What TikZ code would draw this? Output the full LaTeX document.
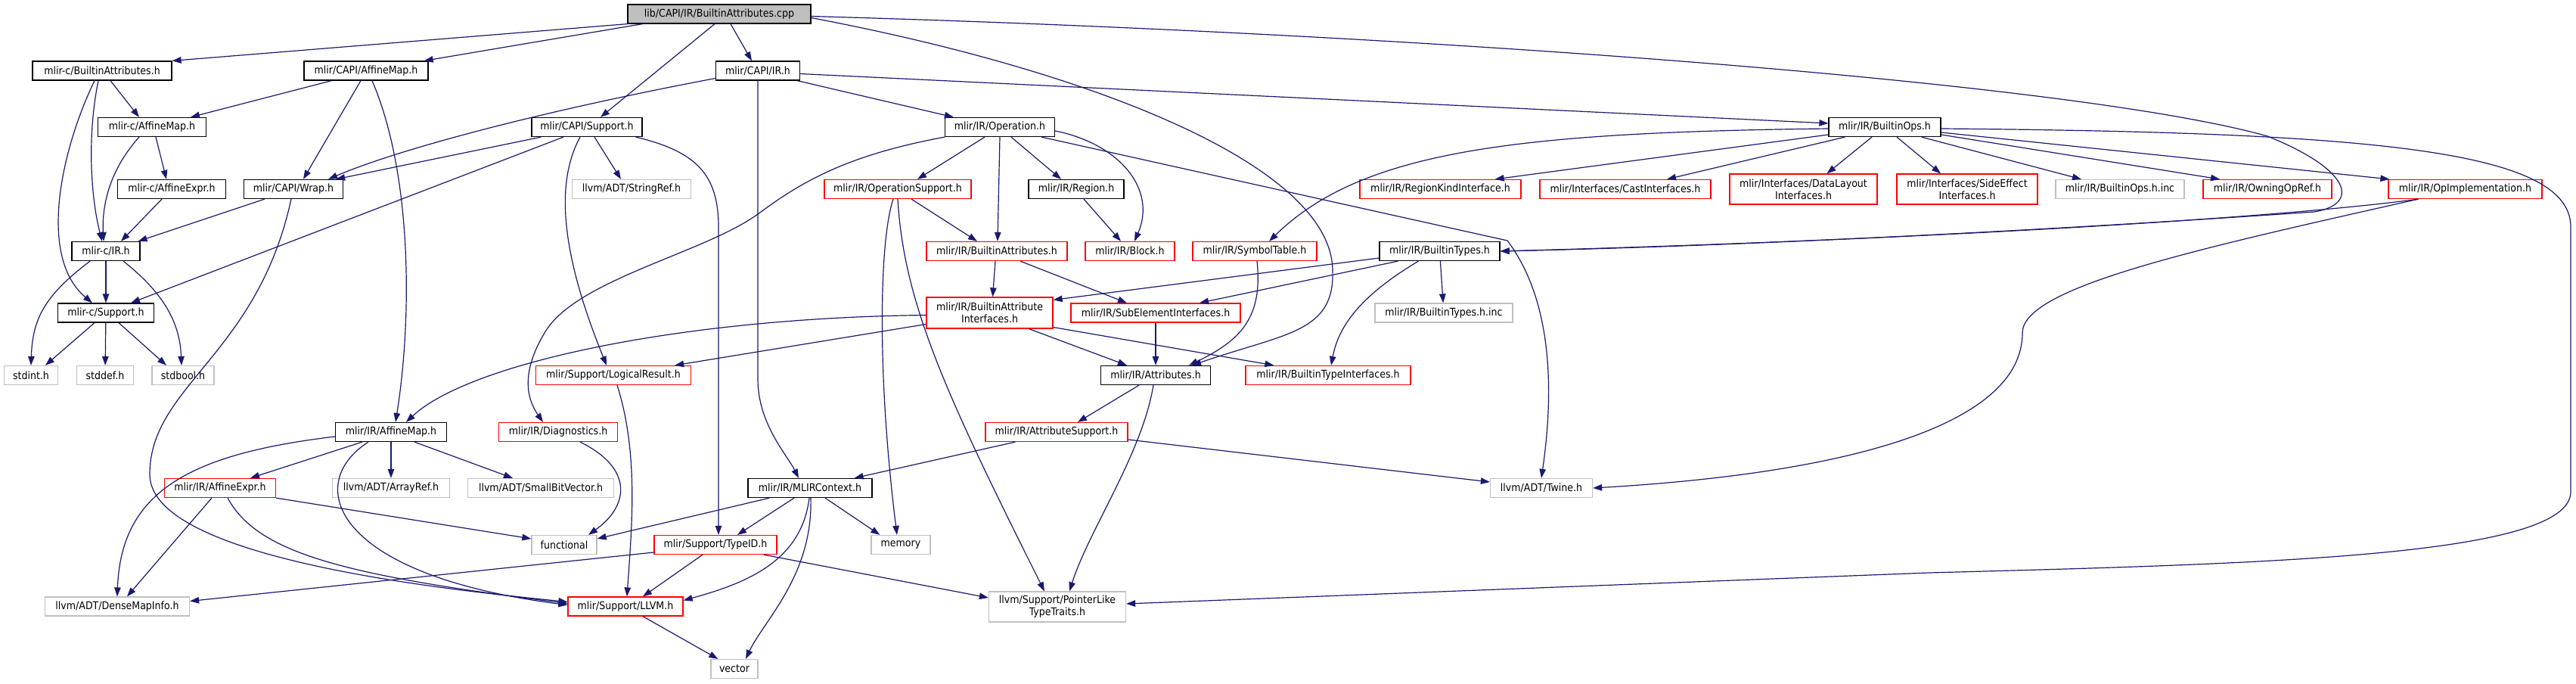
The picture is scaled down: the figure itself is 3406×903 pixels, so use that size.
\documentclass[tikz,border=0pt]{standalone}
\usepackage{fontspec}
\IfFontExistsTF{DejaVu Sans Condensed}{\setmainfont{DejaVu Sans Condensed}\newcommand\nf{\fontsize{14}{16}\selectfont}}{\setmainfont{DejaVu Sans}\newcommand\nf{\fontsize{12.8}{15}\selectfont}}
\usetikzlibrary{arrows.meta,calc}
\definecolor{edgec}{HTML}{191970}
\definecolor{grayb}{HTML}{BFBFBF}
\definecolor{redb}{HTML}{FF0000}
\tikzset{
  box/.style={rectangle, draw, fill=white, minimum height=25pt, inner sep=0pt, line width=1.25pt, font=\nf, text=black, align=center},
  bk/.style={box, draw=black},
  rd/.style={box, draw=redb},
  gr/.style={box, draw=grayb},
  e/.style={draw=edgec, line width=1.2pt, -{Triangle[length=12pt,width=8.5pt]}}
}
\begin{document}
\begin{tikzpicture}[x=1pt,y=-1pt]
\fill[white] (0,0) rectangle (3406,903);
\useasboundingbox (0,0) rectangle (3406,903);
% nodes
\node[bk, fill=grayb, minimum width=242pt] (root) at (951,18.5) {lib/CAPI/IR/BuiltinAttributes.cpp};
\node[bk, minimum width=184pt] (cba) at (135,93.5) {mlir-c/BuiltinAttributes.h};
\node[bk, minimum width=164pt] (capiam) at (484,93.5) {mlir/CAPI/AffineMap.h};
\node[bk, minimum width=111pt] (capiir) at (1002,93.5) {mlir/CAPI/IR.h};
\node[bk, minimum width=143pt] (caff) at (201,168) {mlir-c/AffineMap.h};
\node[bk, minimum width=146pt] (capisup) at (776,168) {mlir/CAPI/Support.h};
\node[bk, minimum width=145pt] (op) at (1322,168) {mlir/IR/Operation.h};
\node[bk, minimum width=148pt] (bops) at (2492,168) {mlir/IR/BuiltinOps.h};
\node[bk, minimum width=143pt] (caffe) at (227,250) {mlir-c/AffineExpr.h};
\node[bk, minimum width=131pt] (wrap) at (388,250) {mlir/CAPI/Wrap.h};
\node[gr, minimum width=157pt] (sref) at (835,250) {llvm/ADT/StringRef.h};
\node[rd, minimum width=194pt] (opsup) at (1187,250) {mlir/IR/OperationSupport.h};
\node[bk, minimum width=126pt] (region) at (1423,250) {mlir/IR/Region.h};
\node[rd, minimum width=213pt] (rki) at (1904.5,250) {mlir/IR/RegionKindInterface.h};
\node[rd, minimum width=226pt] (cast) at (2149,250) {mlir/Interfaces/CastInterfaces.h};
\node[rd, minimum width=195pt, minimum height=40pt] (dl) at (2384.5,250) {mlir/Interfaces/DataLayout\\Interfaces.h};
\node[rd, minimum width=186pt, minimum height=40pt] (se) at (2601,250) {mlir/Interfaces/SideEffect\\Interfaces.h};
\node[gr, minimum width=170pt] (bopsinc) at (2803,250) {mlir/IR/BuiltinOps.h.inc};
\node[rd, minimum width=170pt] (owning) at (2998,250) {mlir/IR/OwningOpRef.h};
\node[rd, minimum width=203pt] (opimpl) at (3259.5,250) {mlir/IR/OpImplementation.h};
\node[bk, minimum width=90pt] (cir) at (140,332) {mlir-c/IR.h};
\node[rd, minimum width=186pt] (battr) at (1318,332) {mlir/IR/BuiltinAttributes.h};
\node[rd, minimum width=118pt] (block) at (1494,332) {mlir/IR/Block.h};
\node[rd, minimum width=164pt] (symtab) at (1659,332) {mlir/IR/SymbolTable.h};
\node[bk, minimum width=159pt] (btypes) at (1903.5,332) {mlir/IR/BuiltinTypes.h};
\node[bk, minimum width=127pt] (csup) at (140,413.5) {mlir-c/Support.h};
\node[rd, minimum width=167pt, minimum height=41pt] (bai) at (1308.5,413.5) {mlir/IR/BuiltinAttribute\\Interfaces.h};
\node[rd, minimum width=224pt] (subel) at (1528,413.5) {mlir/IR/SubElementInterfaces.h};
\node[gr, minimum width=182pt] (btinc) at (1909,413.5) {mlir/IR/BuiltinTypes.h.inc};
\node[gr, minimum width=71pt] (stdint) at (41,496) {stdint.h};
\node[gr, minimum width=75pt] (stddef) at (139,496) {stddef.h};
\node[gr, minimum width=82pt] (stdbool) at (242,496) {stdbool.h};
\node[rd, minimum width=205pt] (logres) at (811,496) {mlir/Support/LogicalResult.h};
\node[bk, minimum width=145pt] (attrs) at (1528,496) {mlir/IR/Attributes.h};
\node[rd, minimum width=218pt] (bti) at (1756,496) {mlir/IR/BuiltinTypeInterfaces.h};
\node[bk, minimum width=147pt] (iram) at (517,571) {mlir/IR/AffineMap.h};
\node[rd, minimum width=157pt] (diag) at (738,571) {mlir/IR/Diagnostics.h};
\node[rd, minimum width=188pt] (attrsup) at (1397,571) {mlir/IR/AttributeSupport.h};
\node[rd, minimum width=147pt] (iraffe) at (291,645) {mlir/IR/AffineExpr.h};
\node[gr, minimum width=155pt] (aref) at (517,645) {llvm/ADT/ArrayRef.h};
\node[gr, minimum width=193pt] (sbv) at (715,645) {llvm/ADT/SmallBitVector.h};
\node[bk, minimum width=164pt] (mlirctx) at (1071,645) {mlir/IR/MLIRContext.h};
\node[gr, minimum width=135pt] (twine) at (2038,645) {llvm/ADT/Twine.h};
\node[gr, minimum width=86pt] (functional) at (746,720) {functional};
\node[rd, minimum width=162pt] (typeid) at (946,720) {mlir/Support/TypeID.h};
\node[gr, minimum width=78pt] (memory) at (1191,720) {memory};
\node[gr, minimum width=191pt] (dmi) at (155,801.5) {llvm/ADT/DenseMapInfo.h};
\node[rd, minimum width=152pt] (llvmh) at (827,801.5) {mlir/Support/LLVM.h};
\node[gr, minimum width=181pt, minimum height=40pt] (plt) at (1398,802) {llvm/Support/PointerLike\\TypeTraits.h};
\node[gr, minimum width=62pt] (vector) at (971,884) {vector};
% root edges
\draw[e] (root.south west) -- (cba.north east);
\draw[e] ($(root.south west)+(20,0)$) -- ($(capiam.north east)+(-6,0)$);
\draw[e] ($(root.south)+(-6,0)$) -- ($(capisup.north)+(18,0)$);
\draw[e] ($(root.south)+(15,0)$) -- ($(capiir.north)+(-8,0)$);
\draw[e] ($(root.east)+(0,5)$) .. controls (1450,95) and (1760,220) .. (1762,357) .. controls (1765,440) and (1700,440) .. ($(attrs.north)+(48,0)$);
\draw[e] ($(root.east)+(0,3)$) .. controls (1900,45) and (2750,110) .. (2998,180) .. controls (3110,225) and (3120,270) .. (3060,280) .. controls (2700,305) and (2300,325) .. (btypes.east);
% capiir
\draw[e] ($(capiir.west)+(0,10)$) .. controls (700,150) and (520,200) .. ($(wrap.north east)+(-20,0)$);
\draw[e] (capiir.south) -- ($(capiir.south)+(0,394)$) .. controls (1002,560) and (1040,600) .. ($(mlirctx.north)+(-15,0)$);
\draw[e] ($(capiir.south east)+(-4,0)$) -- ($(op.north west)+(12,0)$);
\draw[e] ($(capiir.east)+(0,4)$) -- ($(bops.west)+(0,-5)$);
% capiam
\draw[e] ($(capiam.south west)+(37,0)$) -- ($(caff.north)+(51,0)$);
\draw[e] ($(capiam.south)+(-7,0)$) -- ($(wrap.north)+(13,0)$);
\draw[e] ($(capiam.south)+(8,0)$) .. controls (545,230) and (545,420) .. ($(iram.north)+(6,0)$);
% cba
\draw[e] ($(cba.south)+(11,0)$) -- ($(caff.north)+(-17,0)$);
\draw[e] ($(cba.south)+(-5,0)$) .. controls (115,180) and (120,260) .. ($(cir.north)+(-5,0)$);
\draw[e] ($(cba.south)+(-10,0)$) .. controls (80,200) and (50,340) .. ($(csup.north)+(-18,0)$);
% caff
\draw[e] ($(caff.south)+(5,0)$) -- ($(caffe.north)+(-7,0)$);
\draw[e] ($(caff.south)+(-17,0)$) .. controls (140,230) and (135,280) .. ($(cir.north)+(-3,0)$);
\draw[e] ($(caffe.south)+(-13,0)$) -- ($(cir.north)+(20,0)$);
% wrap
\draw[e] ($(wrap.south west)+(28,0)$) -- ($(cir.north east)+(-3,0)$);
\draw[e] ($(wrap.south)+(-3,0)$) .. controls (340,470) and (198,510) .. (198,627) .. controls (198,740) and (600,780) .. ($(llvmh.west)+(0,-6)$);
% capisup
\draw[e] ($(capisup.south west)+(13,0)$) -- ($(wrap.north east)+(-10,0)$);
\draw[e] ($(capisup.south)+(-31,0)$) -- ($(csup.north)+(33,0)$);
\draw[e] ($(capisup.south)+(10,0)$) -- ($(sref.north)+(-14,0)$);
\draw[e] ($(capisup.south)+(-9,0)$) .. controls (735,240) and (740,330) .. ($(logres.north)+(-9,0)$);
\draw[e] ($(capisup.south east)+(-9,0)$) .. controls (920,200) and (950,230) .. (950,300) -- ($(typeid.north)+(4,0)$);
% op
\draw[e] ($(op.south)+(-20,0)$) -- ($(opsup.north)+(26,0)$);
\draw[e] (op.south) -- ($(battr.north)+(1,0)$);
\draw[e] ($(op.south)+(15,0)$) -- ($(region.north)+(-20,0)$);
\draw[e] ($(op.east)+(0,5)$) .. controls (1480,190) and (1530,250) .. ($(block.north)+(6,0)$);
\draw[e] (op.south west) .. controls (1120,205) and (1060,240) .. (1002,283) .. controls (930,335) and (760,370) .. (720,440) .. controls (690,490) and (695,525) .. ($(diag.north)+(-20,0)$);
\draw[e] ($(op.south east)+(-18,0)$) -- (1993,318) .. controls (2040,380) and (2060,480) .. (twine.north);
% opsup
\draw[e] ($(opsup.south)+(18,0)$) -- ($(battr.north)+(-26,0)$);
\draw[e] ($(opsup.south)+(-6,0)$) .. controls (1162,320) and (1160,500) .. ($(memory.north)+(-5,0)$);
\draw[e] (opsup.south) .. controls (1195,400) and (1250,520) .. ($(plt.north)+(-17,0)$);
\draw[e] ($(region.south)+(10,0)$) -- ($(block.north)+(-12,0)$);
% battr
\draw[e] ($(battr.south)+(-2,0)$) -- ($(bai.north)+(4,0)$);
\draw[e] ($(battr.south)+(31,0)$) -- ($(subel.north)+(-38,0)$);
% bai
\draw[e] ($(bai.west)+(0,3)$) .. controls (900,420) and (620,480) .. ($(iram.north)+(20,0)$);
\draw[e] ($(bai.west)+(0,15)$) -- ($(logres.north east)+(-22,0)$);
\draw[e] ($(bai.south)+(52,0)$) -- ($(attrs.north)+(-38,0)$);
\draw[e] ($(bai.east)+(0,19)$) -- ($(bti.north west)+(38,0)$);
\draw[e] (subel) -- (attrs);
\draw[e] ($(symtab.south)+(3,0)$) .. controls (1670,420) and (1640,450) .. ($(attrs.north)+(44,0)$);
% btypes
\draw[e] ($(btypes.west)+(0,9)$) -- ($(bai.north east)+(0,4)$);
\draw[e] ($(btypes.south west)+(25,0)$) -- ($(subel.north)+(58,0)$);
\draw[e] ($(btypes.south)+(-28,0)$) .. controls (1800,390) and (1770,430) .. ($(bti.north)+(4,0)$);
\draw[e] (btypes) -- (btinc);
% bops
\draw[e] ($(bops.west)+(0,10)$) -- ($(rki.north east)+(-35,0)$);
\draw[e] ($(bops.south west)+(22,0)$) -- ($(cast.north)+(55,0)$);
\draw[e] ($(bops.south)+(-17,0)$) -- ($(dl.north)+(31,0)$);
\draw[e] ($(bops.south)+(16,0)$) -- ($(se.north)+(-35,0)$);
\draw[e] ($(bops.south east)+(-26,0)$) -- ($(bopsinc.north)+(-51,0)$);
\draw[e] ($(bops.east)+(0,10)$) -- ($(owning.north)+(-63,0)$);
\draw[e] ($(bops.east)+(0,7)$) -- ($(opimpl.north west)+(2,0)$);
\draw[e] ($(bops.east)+(0,2)$) .. controls (3150,175) and (3399,200) .. (3399,300) -- (3399,650) .. controls (3399,735) and (3000,745) .. (2550,757) -- ($(plt.east)+(0,-4)$);
\draw[e] ($(bops.west)+(0,2)$) .. controls (2000,175) and (1800,200) .. ($(symtab.north)+(19,0)$);
% opimpl
\draw[e] ($(opimpl.south)+(-62,0)$) .. controls (3000,290) and (2500,318) .. (btypes.east);
\draw[e] ($(opimpl.south)+(-62,0)$) .. controls (2900,330) and (2674,380) .. (2674,440) .. controls (2674,560) and (2450,625) .. (twine.east);
% attrs
\draw[e] ($(attrs.south)+(-22,0)$) -- ($(attrsup.north)+(28,0)$);
\draw[e] ($(attrs.south)+(-3,0)$) .. controls (1510,600) and (1440,700) .. ($(plt.north)+(16,0)$);
% attrsup
\draw[e] ($(attrsup.south west)+(40,0)$) -- ($(mlirctx.north east)+(-24,0)$);
\draw[e] ($(attrsup.east)+(0,10)$) -- ($(twine.west)+(0,-8)$);
% mlirctx
\draw[e] ($(mlirctx.south west)+(29,0)$) -- ($(functional.east)+(0,-8)$);
\draw[e] ($(mlirctx.south)+(-21,0)$) -- ($(typeid.north)+(29,0)$);
\draw[e] ($(mlirctx.south)+(20,0)$) -- ($(memory.north west)+(12,0)$);
\draw[e] ($(mlirctx.south)+(-1,0)$) .. controls (1060,740) and (990,770) .. ($(llvmh.east)+(0,-8)$);
\draw[e] ($(mlirctx.south)+(1,0)$) .. controls (1075,760) and (1010,820) .. ($(vector.north)+(15,0)$);
% typeid
\draw[e] ($(typeid.south)+(-17,0)$) -- ($(llvmh.north)+(23,0)$);
\draw[e] ($(typeid.south)+(64,0)$) -- ($(plt.west)+(0,-12)$);
\draw[e] ($(typeid.west)+(0,10)$) -- ($(dmi.east)+(0,-7)$);
\draw[e] ($(llvmh.south)+(23,0)$) -- ($(vector.north west)+(10,0)$);
\draw[e] ($(logres.south)+(5,0)$) .. controls (845,600) and (835,700) .. ($(llvmh.north)+(2,0)$);
\draw[e] ($(diag.south)+(29,0)$) .. controls (840,620) and (830,670) .. ($(functional.north)+(32,0)$);
% iram
\draw[e] ($(iram.south)+(-38,0)$) -- ($(iraffe.north)+(40,0)$);
\draw[e] (iram) -- (aref);
\draw[e] ($(iram.south)+(31,0)$) -- ($(sbv.north)+(-37,0)$);
\draw[e] ($(iram.west)+(0,6)$) .. controls (250,600) and (160,650) .. (dmi.north);
\draw[e] ($(iram.south)+(-30,0)$) .. controls (400,640) and (440,760) .. ($(llvmh.west)+(0,-2)$);
% iraffe
\draw[e] (iraffe.south east) -- ($(functional.west)+(0,-8)$);
\draw[e] ($(iraffe.south)+(-11,0)$) -- ($(dmi.north)+(13,0)$);
\draw[e] ($(iraffe.south)+(10,0)$) .. controls (340,730) and (450,760) .. ($(llvmh.west)+(0,-4)$);
% cir
\draw[e] (cir) -- (csup);
\draw[e] ($(cir.south)+(-21,0)$) .. controls (60,390) and (43,420) .. (stdint.north);
\draw[e] ($(cir.south)+(23,0)$) .. controls (220,390) and (238,430) .. ($(stdbool.north)+(-2,0)$);
% csup
\draw[e] ($(csup.south)+(-15,0)$) -- ($(stdint.north)+(19,0)$);
\draw[e] (csup) -- (stddef);
\draw[e] ($(csup.south)+(17,0)$) -- ($(stdbool.north)+(-22,0)$);
\end{tikzpicture}
\end{document}
